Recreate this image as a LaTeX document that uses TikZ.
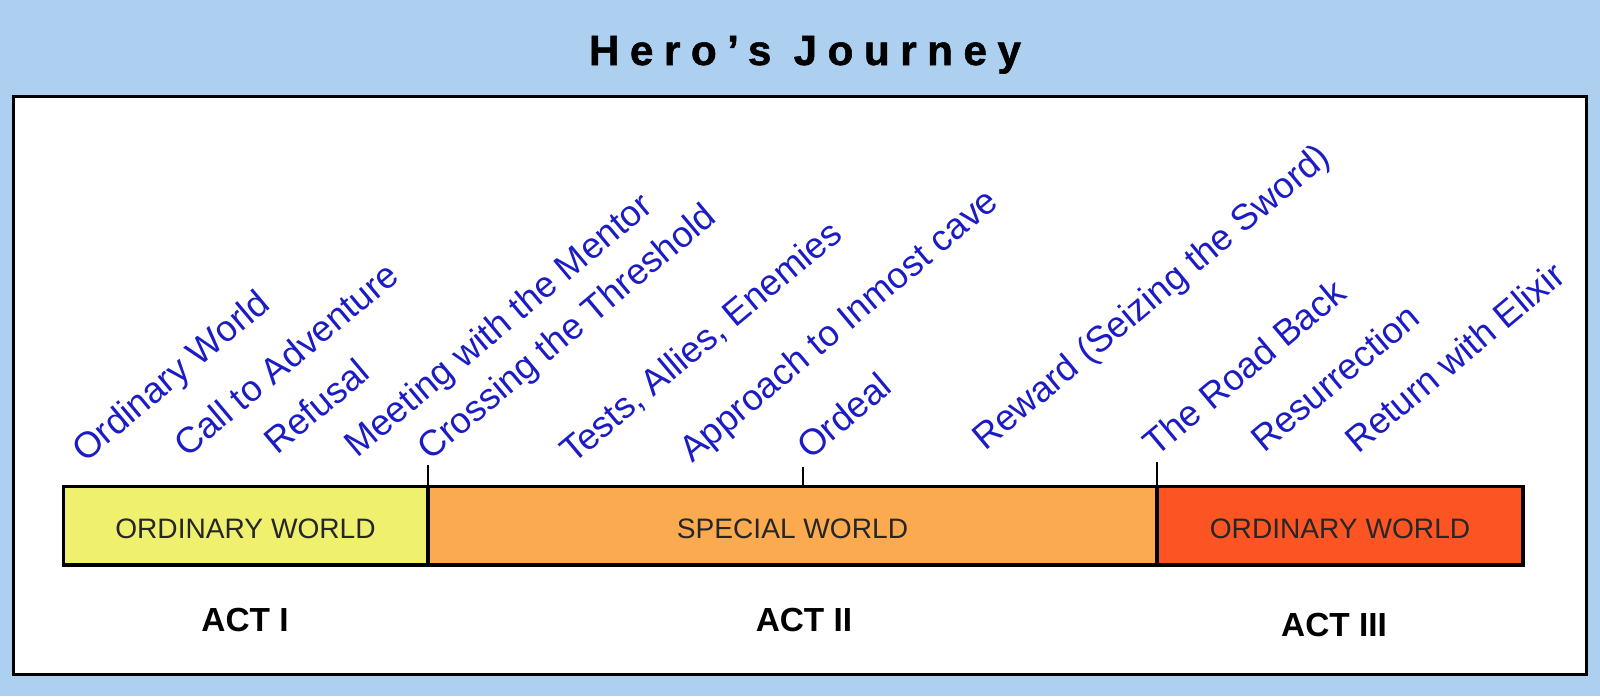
\documentclass[tikz,border=0pt]{standalone}
\usepackage{fontspec}
\setmainfont{Liberation Sans}
\usepackage{tikz}
\usetikzlibrary{positioning}

\definecolor{skyback}{HTML}{ADCFF0}
\definecolor{stageblue}{HTML}{1C1CC6}
\definecolor{ordyellow}{HTML}{EEF06E}
\definecolor{specorange}{HTML}{FCAA50}
\definecolor{retred}{HTML}{FC5523}

\tikzset{
    stage/.style={rotate=40, anchor=base west, inner sep=0pt, text=stageblue,
        font=\fontsize{20.7}{24}\selectfont},
    world/.style={draw=black, line width=0.4mm, minimum height=15.4mm, inner sep=0pt,
        text height=15pt, anchor=north west, text=black!85, font=\fontsize{16}{18}\selectfont},
    act/.style={font=\bfseries\fontsize{19}{22}\selectfont},
}

\begin{document}
\begin{tikzpicture}[x=0.2mm, y=-0.2mm]
    \fill[skyback] (0,0) rectangle (1600,696);
    \useasboundingbox (0,0) rectangle (1600,696);
    \node[anchor=base, font=\bfseries\fontsize{24}{28}\selectfont\addfontfeature{LetterSpace=25,FakeBold=1.2}]
    (title) at (805,65) {Hero's Journey};
    \draw[line width=0.6mm, fill=white] (13,96) rectangle (1586,674);

    \node[world, fill=ordyellow, minimum width=72.6mm] (ow) at (63,486) {ORDINARY WORLD};
    \node[world, fill=specorange, minimum width=145.4mm, right=0pt of ow] (sw) {SPECIAL WORLD};
    \node[world, fill=retred, minimum width=72.8mm, right=0pt of sw] (rw) {ORDINARY WORLD};
    \draw[line width=0.6mm] (ow.north west) rectangle (rw.south east);

    \coordinate (t1) at (0,465);
    \coordinate (t2) at (803,467);
    \coordinate (t3) at (0,462);
    \draw[line width=0.5mm] (ow.north east |- t1) -- (ow.north east);
    \draw[line width=0.5mm] (t2) -- (t2 |- sw.north);
    \draw[line width=0.5mm] (sw.north east |- t3) -- (sw.north east);

    \node[act] (act1) at (245,620) {ACT I};
    \node[act] (act2) at (804,620) {ACT II};
    \node[act] (act3) at (1334,625) {ACT III};

    \node[stage] (ordinary) at (85,464) {Ordinary World};
    \node[stage] (call) at (187,459) {Call to Adventure};
    \node[stage] (refusal) at (277,456) {Refusal};
    \node[stage] (mentor) at (357,459) {Meeting with the Mentor};
    \node[stage] (threshold) at (430,462) {Crossing the Threshold};
    \node[stage] (tests) at (573,465) {Tests, Allies, Enemies};
    \node[stage] (approach) at (692,464) {Approach to Inmost cave};
    \node[stage] (ordeal) at (810,461) {Ordeal};
    \node[stage] (reward) at (985,452) {Reward (Seizing the Sword)};
    \node[stage] (road) at (1156,458) {The Road Back};
    \node[stage] (resurrection) at (1264,454) {Resurrection};
    \node[stage] (elixir) at (1358,455) {Return with Elixir};
\end{tikzpicture}
\end{document}
